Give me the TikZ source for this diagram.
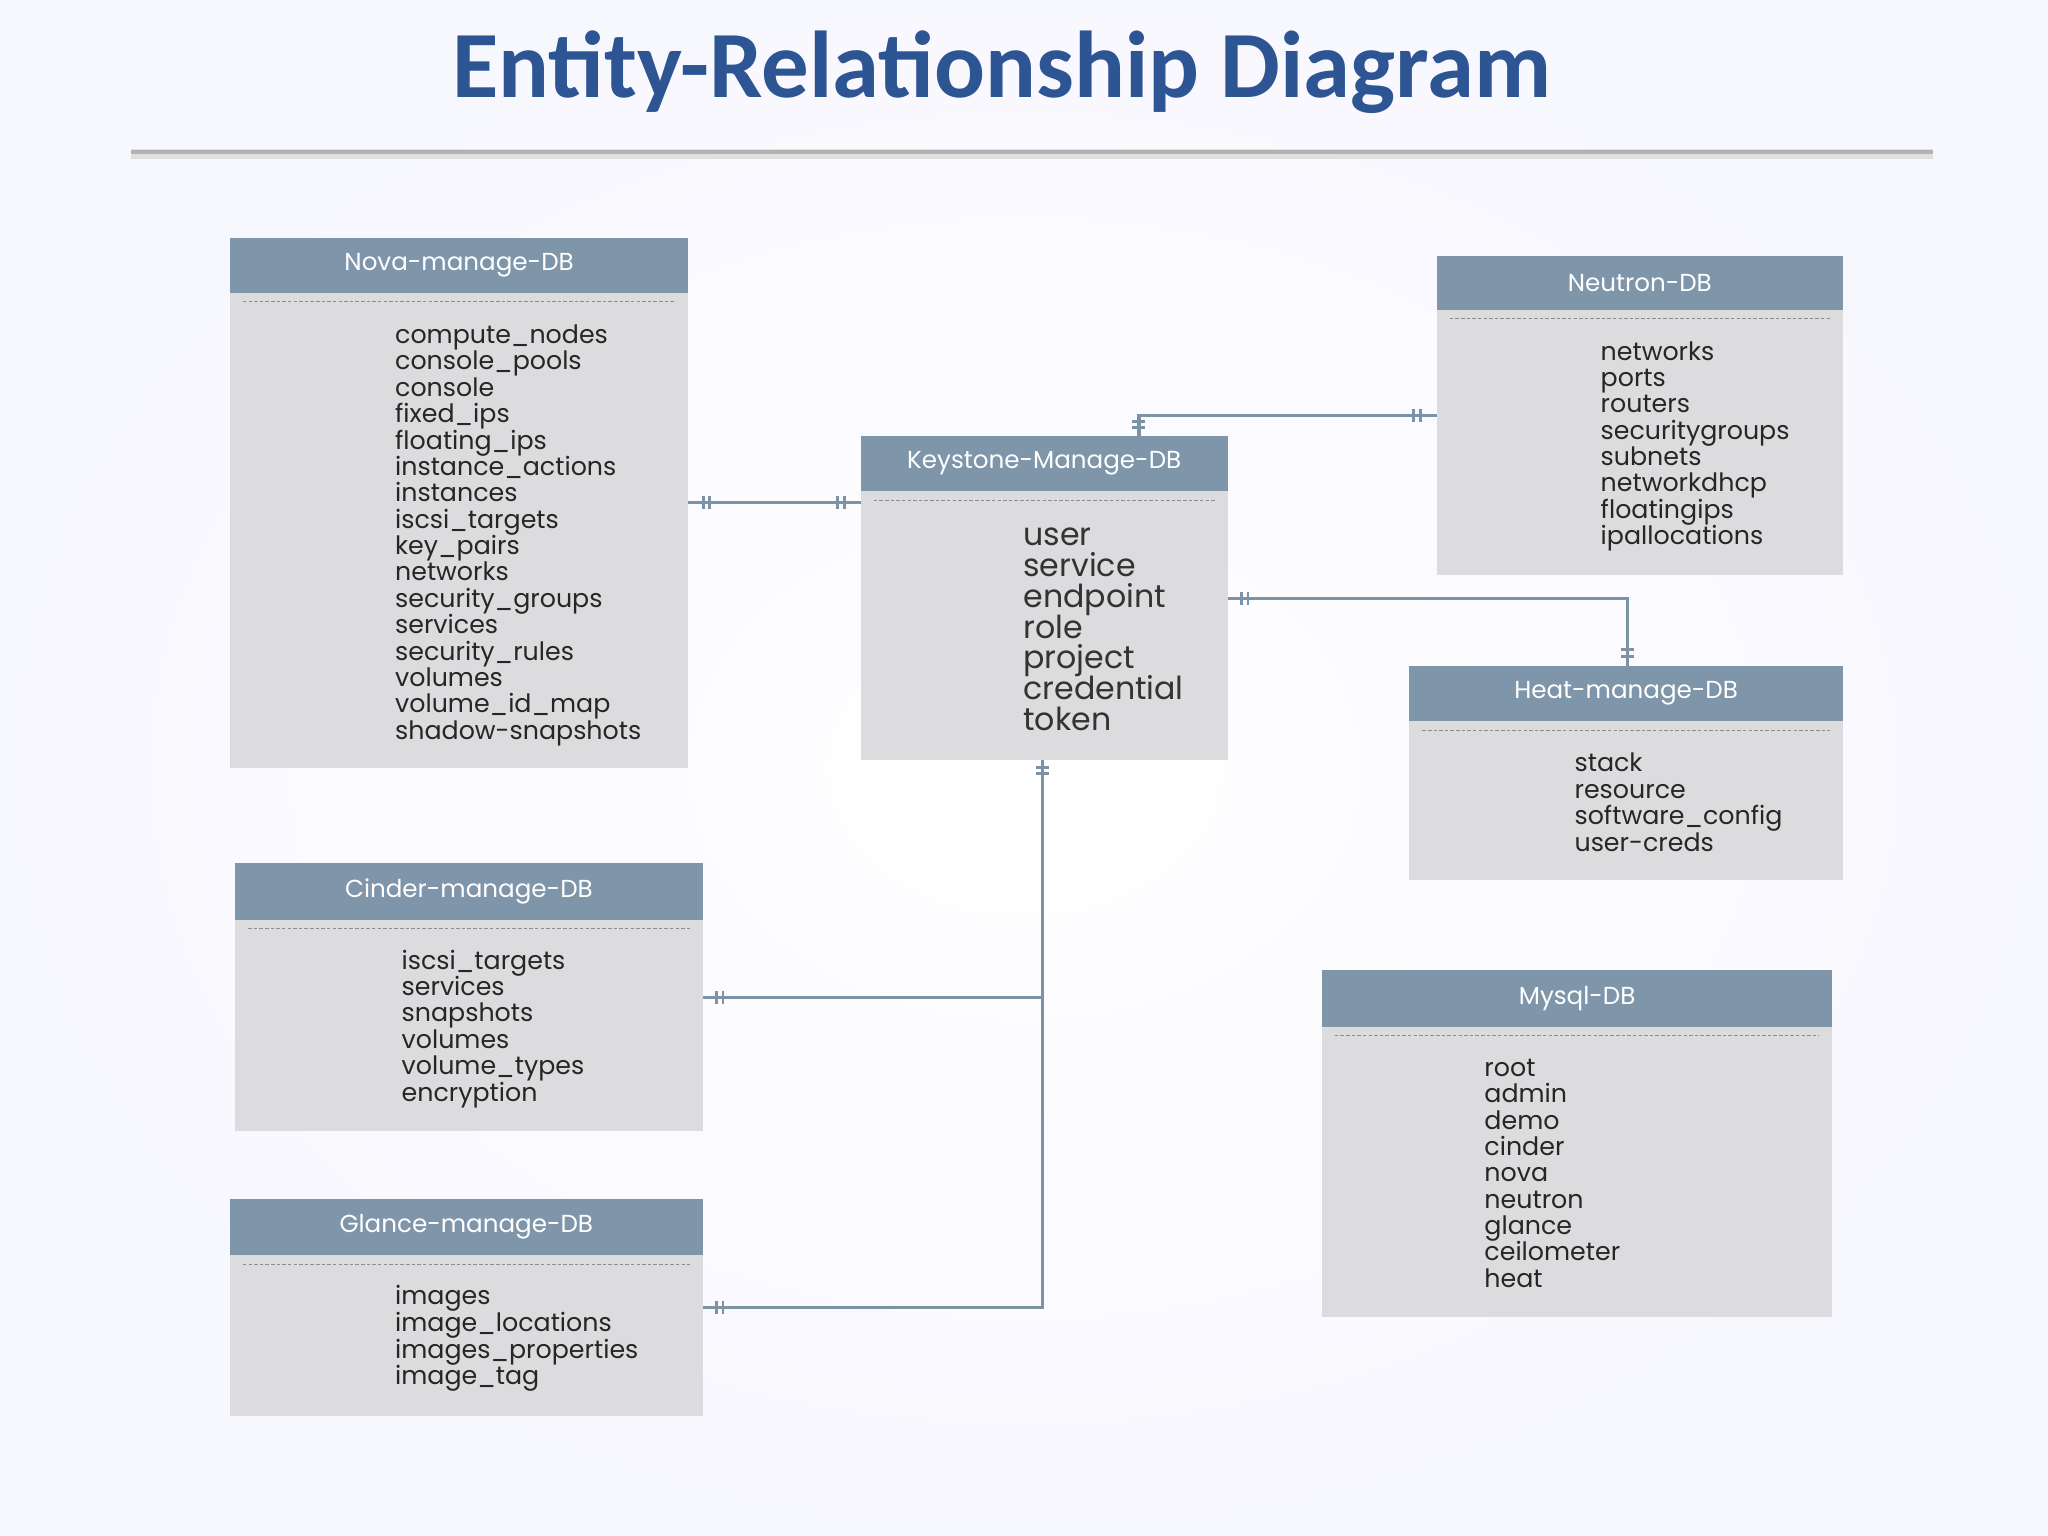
\documentclass[tikz,border=0pt]{standalone}
\usepackage{fontspec}
\setmainfont{Poppins}
\newfontfamily\titlefont{Carlito}
\definecolor{hdr}{HTML}{7F95AA}
\definecolor{bdy}{HTML}{DCDCDE}
\definecolor{lnc}{HTML}{7E92A6}
\definecolor{ttl}{HTML}{2D5593}
\tikzset{
 hdrbox/.style={fill=hdr,draw=none},
 bdybox/.style={fill=bdy,draw=none},
 hdrtext/.style={text=white,font=\fontsize{7}{8}\selectfont},
 item/.style={anchor=base west,inner sep=0pt,font=\fontsize{7.2}{8}\selectfont,text=black!85},
 bigitem/.style={anchor=base west,inner sep=0pt,font=\fontsize{9}{10}\selectfont,text=black!80},
 conn/.style={draw=lnc,line width=0.9pt},
 tick/.style={draw=lnc,line width=0.8pt}
}
\newcommand{\dbbox}[8]{% name, x1, y1 (top), x2, yh (header bottom), y2 (bottom), title, itemx
 \fill[bdybox] (#2,#5) rectangle (#4,#6);
 \fill[hdrbox] (#2,#3) rectangle (#4,#5);
 \node[hdrtext] (#1) at ({(#2+#4)/2},{(#3+#5)/2}) {#7};
 \draw[black!45,dashed,line width=0.3pt,dash pattern=on 1pt off 0.6pt] ({#2+10},{#5+7}) -- ({#4-10},{#5+7});
 \coordinate (#1-nw) at (#2,#3);
 \coordinate (#1-se) at (#4,#6);
}
\newcommand{\items}[5]{% x, y, spacing, style, list
 \foreach \t [count=\i from 0] in {#5} {\node[#4] at (#1,{#2+\i*#3}) {\t};}
}
\newcommand{\hbars}[2]{\draw[tick] (#1-2.5,#2-5) -- (#1-2.5,#2+5) (#1+2.5,#2-5) -- (#1+2.5,#2+5);}
\newcommand{\vbars}[2]{\draw[tick] (#1-5,#2-2.5) -- (#1+5,#2-2.5) (#1-5,#2+2.5) -- (#1+5,#2+2.5);}
\begin{document}
\begin{tikzpicture}[x=0.013061cm,y=-0.013061cm]
\useasboundingbox (0,0) rectangle (1568,1176);
\shade[inner color=white,outer color=black!8!blue!3!white] (0,0) rectangle (1568,1176);
\node[font=\titlefont\bfseries\fontsize{27}{30}\selectfont,text=ttl] (title) at (767,55) {Entity-Relationship Diagram};
\fill[black!12] (100,114) rectangle (1480,122);
\fill[black!30] (100,115) rectangle (1480,118);
% boxes
\dbbox{nova}{176}{182}{527}{224}{588}{Nova-manage-DB}{302}
\items{302}{263}{20.2}{item}{compute\_nodes,console\_pools,console,fixed\_ips,floating\_ips,instance\_actions,instances,iscsi\_targets,key\_pairs,networks,security\_groups,services,security\_rules,volumes,volume\_id\_map,shadow-snapshots}
\dbbox{neutron}{1100}{196}{1411}{237}{440}{Neutron-DB}{1225}
\items{1225}{276}{20.1}{item}{networks,ports,routers,securitygroups,subnets,networkdhcp,floatingips,ipallocations}
\dbbox{key}{659}{334}{940}{376}{582}{Keystone-Manage-DB}{783}
\items{783}{418}{23.5}{bigitem}{user,service,endpoint,role,project,credential,token}
\dbbox{heat}{1079}{510}{1411}{552}{674}{Heat-manage-DB}{1205}
\items{1205}{591}{20.3}{item}{stack,resource,software\_config,user-creds}
\dbbox{cinder}{180}{661}{538}{704}{866}{Cinder-manage-DB}{307}
\items{307}{742}{20.2}{item}{iscsi\_targets,services,snapshots,volumes,volume\_types,encryption}
\dbbox{glance}{176}{918}{538}{961}{1084}{Glance-manage-DB}{302}
\items{302}{999}{20.4}{item}{images,image\_locations,images\_properties,image\_tag}
\dbbox{mysql}{1012}{743}{1403}{786}{1008}{Mysql-DB}{1136}
\items{1136}{824}{20.2}{item}{root,admin,demo,cinder,nova,neutron,glance,ceilometer,heat}
% connectors
\coordinate (novaR) at (527,385); \coordinate (keyL) at (659,385);
\draw[conn] (novaR) -- (keyL);
\hbars{541}{385}\hbars{644}{385}
\coordinate (keyT) at (872,334); \coordinate (neuL) at (1100,318);
\draw[conn] (keyT) |- (neuL);
\vbars{872}{325}\hbars{1085}{318}
\coordinate (keyR) at (940,458); \coordinate (heatT) at (1246,510);
\draw[conn] (keyR) -| (heatT);
\hbars{953}{458}\vbars{1246}{500}
\coordinate (keyB) at (798,582); \coordinate (glR) at (538,1001); \coordinate (ciR) at (538,764);
\draw[conn] (keyB) |- (glR);
\draw[conn] (ciR) -- (798,764);
\vbars{798}{590}\hbars{551}{764}\hbars{551}{1001}
\end{tikzpicture}
\end{document}
